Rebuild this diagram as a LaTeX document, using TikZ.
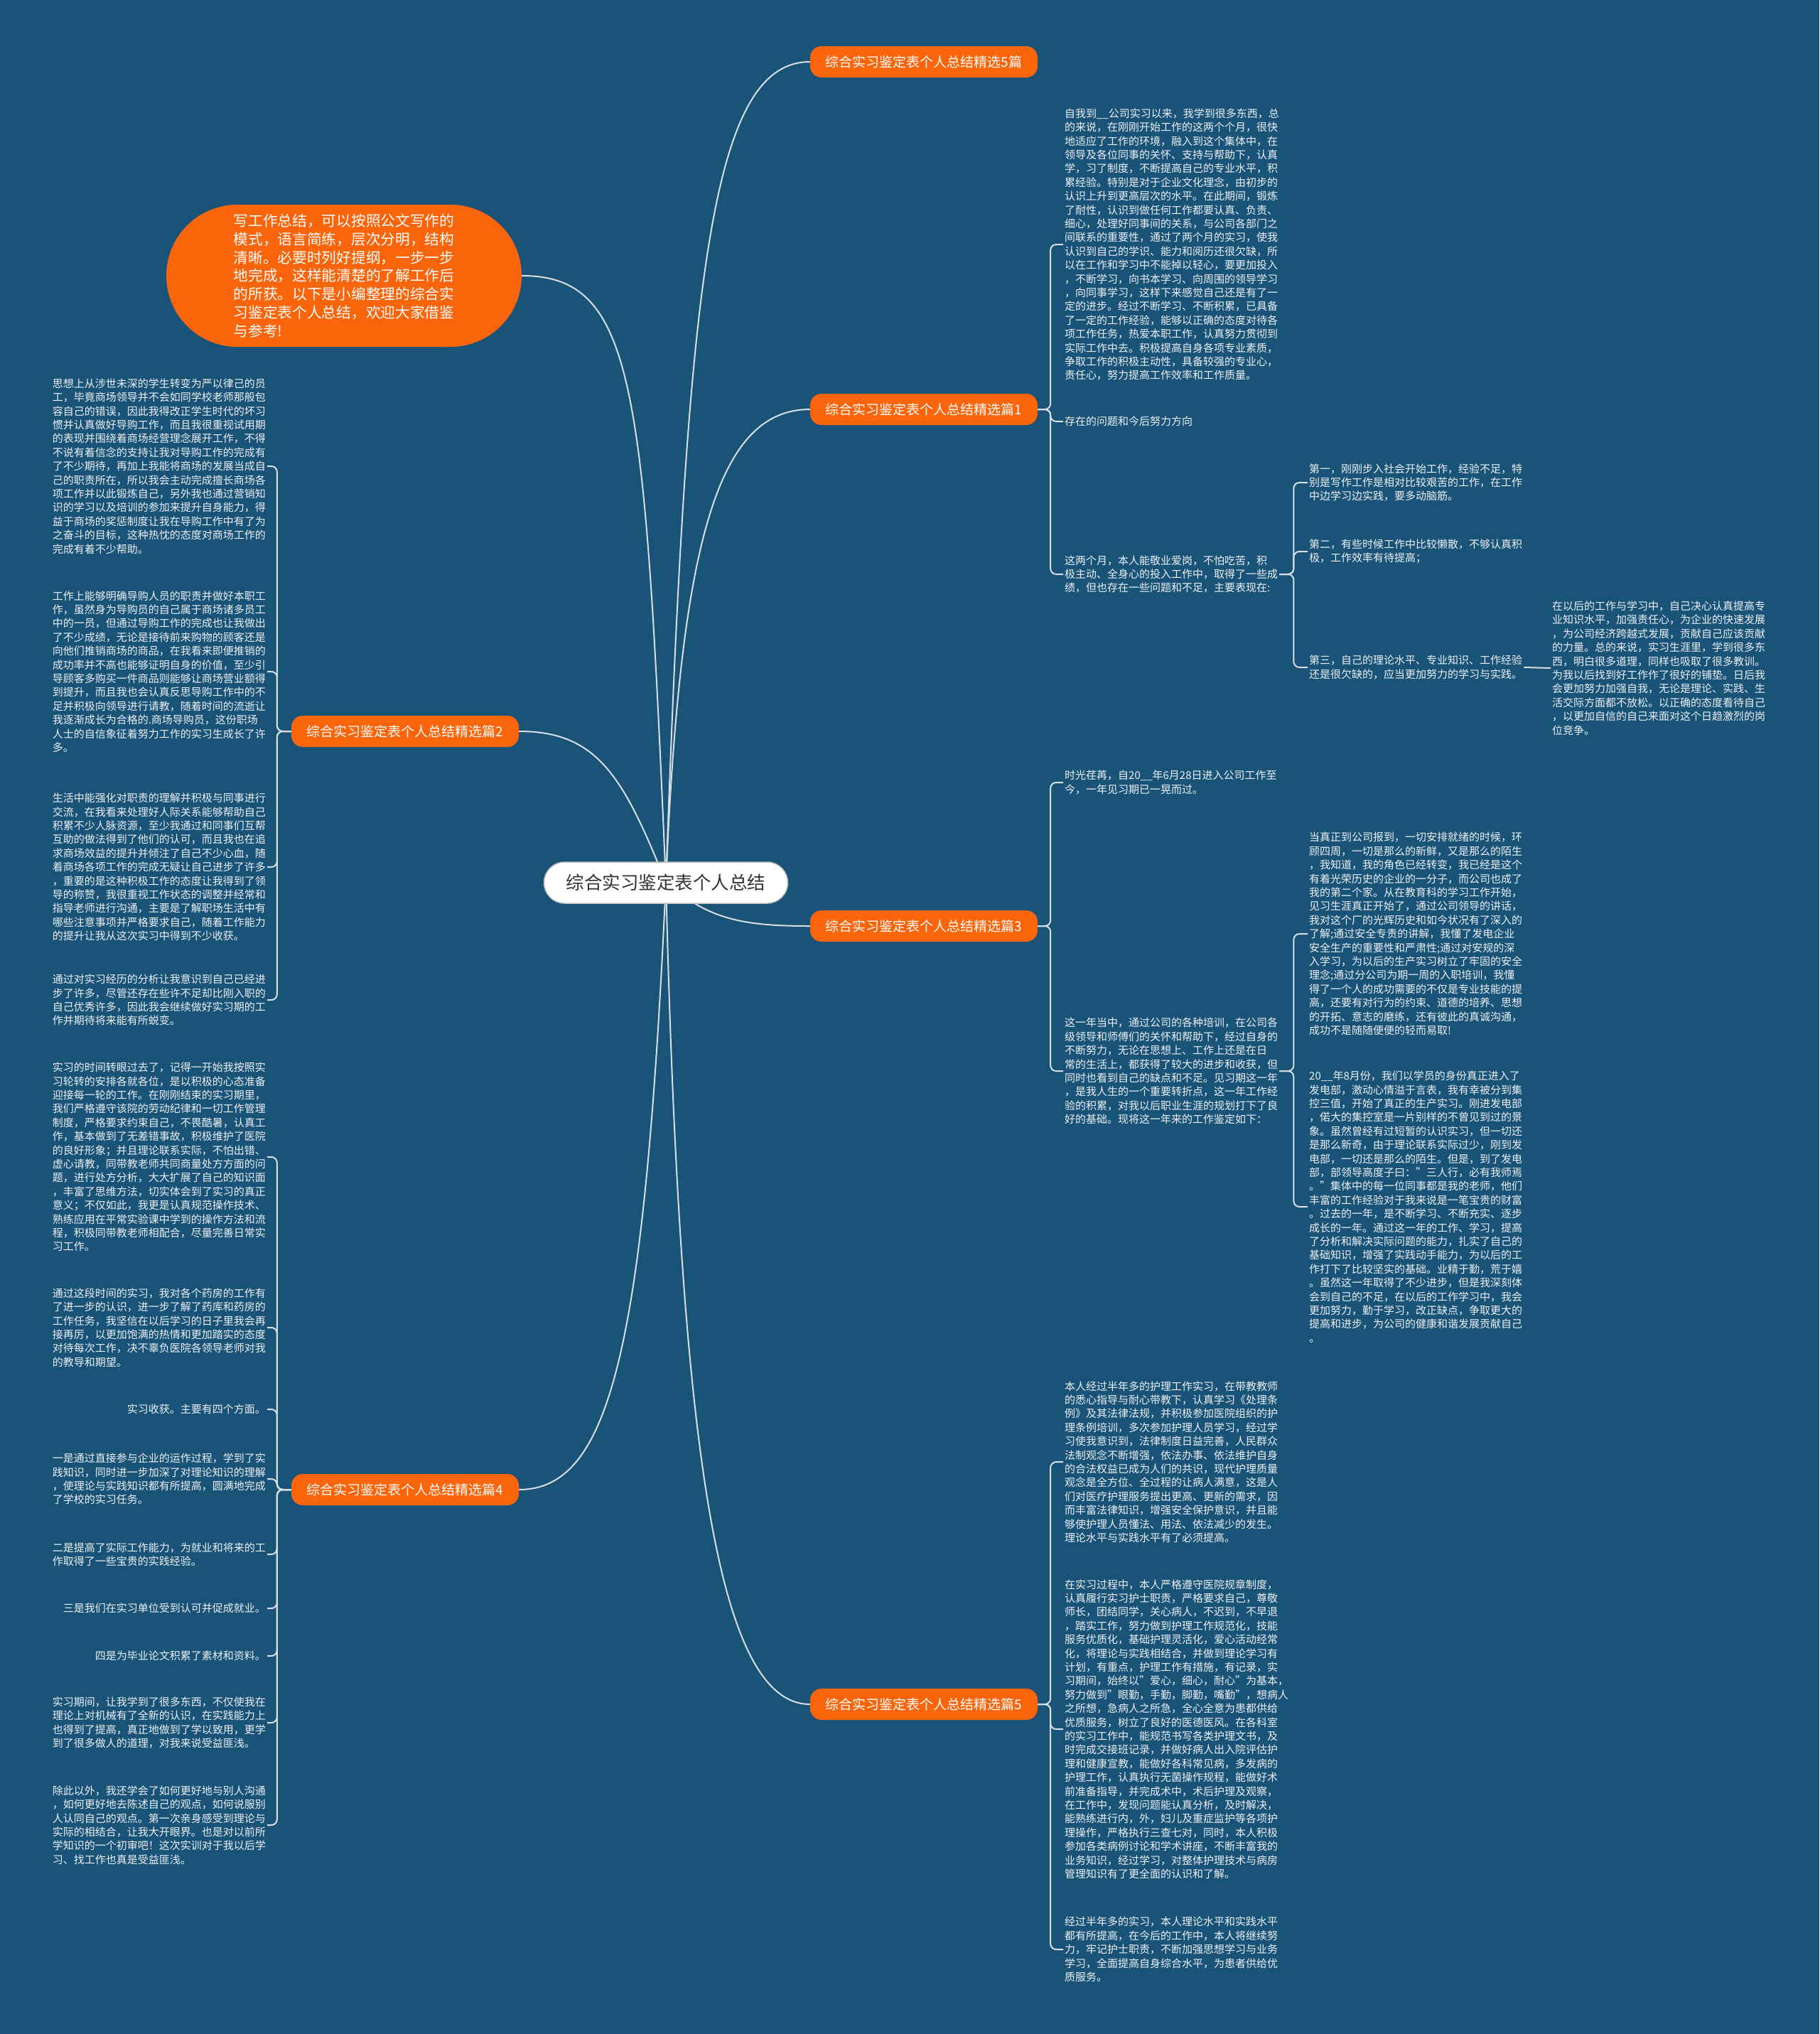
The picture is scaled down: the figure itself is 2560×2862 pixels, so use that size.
\documentclass[tikz,border=0pt]{standalone}
\usepackage{fontspec}
\setmainfont{Noto Sans CJK SC}
\definecolor{bgblue}{RGB}{26,83,120}
\definecolor{mmorange}{RGB}{250,100,10}
\definecolor{linkgray}{RGB}{215,222,228}
\pgfdeclarelayer{back}
\pgfdeclarelayer{edges}
\pgfsetlayers{back,edges,main}

\begin{document}
\begin{tikzpicture}[x=1pt, y=-1pt,
    root/.style={draw=gray!50, line width=1.5pt, fill=white, rounded corners=29pt,
      minimum width=343pt, minimum height=58pt, text=black!80,
      font=\fontsize{25.5}{30}\selectfont},
    branch/.style={fill=mmorange, rounded corners=16pt, minimum width=320pt,
      minimum height=44pt, text=white, font=\fontsize{19}{23}\selectfont},
    intro/.style={fill=mmorange, rounded corners=100pt, minimum width=500pt,
      minimum height=200pt, text=white, align=left,
      font=\fontsize{20.7}{25.7}\selectfont},
    leaf/.style={text=white!92!bgblue, align=left, inner sep=2pt,
      font=\fontsize{15}{19.4}\selectfont},
    link/.style={draw=linkgray, line width=2pt},
    bracket/.style={link, rounded corners=8pt}]

  % 背景
  \begin{pgfonlayer}{back}
    \fill[bgblue] (0,0) rectangle (2560,2862);
  \end{pgfonlayer}
  \useasboundingbox (0,0) rectangle (2560,2862);

  % 中心主题
  \node[root] (c) at (937,1242) {综合实习鉴定表个人总结};

  % 引言
  \node[intro] (intro) at (484,388) {写工作总结，可以按照公文写作的\\模式，语言简练，层次分明，结构\\清晰。必要时列好提纲，一步一步\\地完成，这样能清楚的了解工作后\\的所获。以下是小编整理的综合实\\习鉴定表个人总结，欢迎大家借鉴\\与参考!};

  % 分支
  \node[branch] (b0) at (1300,87) {综合实习鉴定表个人总结精选5篇};
  \node[branch] (b1) at (1300,576) {综合实习鉴定表个人总结精选篇1};
  \node[branch] (b2) at (570,1029) {综合实习鉴定表个人总结精选篇2};
  \node[branch] (b3) at (1300,1303) {综合实习鉴定表个人总结精选篇3};
  \node[branch] (b4) at (570,2096) {综合实习鉴定表个人总结精选篇4};
  \node[branch] (b5) at (1300,2398) {综合实习鉴定表个人总结精选篇5};

  % 篇1
  \node[leaf, anchor=west] (t1a) at (1496,344) {自我到\_\_公司实习以来，我学到很多东西，总\\的来说，在刚刚开始工作的这两个个月，很快\\地适应了工作的环境，融入到这个集体中，在\\领导及各位同事的关怀、支持与帮助下，认真\\学，习了制度，不断提高自己的专业水平，积\\累经验。特别是对于企业文化理念，由初步的\\认识上升到更高层次的水平。在此期间，锻炼\\了耐性，认识到做任何工作都要认真、负责、\\细心，处理好同事间的关系，与公司各部门之\\间联系的重要性，通过了两个月的实习，使我\\认识到自己的学识、能力和阅历还很欠缺，所\\以在工作和学习中不能掉以轻心，要更加投入\\，不断学习，向书本学习、向周围的领导学习\\，向同事学习，这样下来感觉自己还是有了一\\定的进步。经过不断学习、不断积累，已具备\\了一定的工作经验，能够以正确的态度对待各\\项工作任务，热爱本职工作，认真努力贯彻到\\实际工作中去。积极提高自身各项专业素质，\\争取工作的积极主动性，具备较强的专业心，\\责任心，努力提高工作效率和工作质量。};
  \node[leaf, anchor=west] (t1b) at (1496,593) {存在的问题和今后努力方向};
  \node[leaf, anchor=west] (t1c) at (1496,808) {这两个月，本人能敬业爱岗，不怕吃苦，积\\极主动、全身心的投入工作中，取得了一些成\\绩，但也存在一些问题和不足，主要表现在:};
  \node[leaf, anchor=west] (s1) at (1840,679) {第一，刚刚步入社会开始工作，经验不足，特\\别是写作工作是相对比较艰苦的工作，在工作\\中边学习边实践，要多动脑筋。};
  \node[leaf, anchor=west] (s2) at (1840,776) {第二，有些时候工作中比较懒散，不够认真积\\极，工作效率有待提高；};
  \node[leaf, anchor=west] (s3) at (1840,939) {第三，自己的理论水平、专业知识、工作经验\\还是很欠缺的，应当更加努力的学习与实践。};
  \node[leaf, anchor=west] (s4) at (2182,940) {在以后的工作与学习中，自己决心认真提高专\\业知识水平，加强责任心，为企业的快速发展\\，为公司经济跨越式发展，贡献自己应该贡献\\的力量。总的来说，实习生涯里，学到很多东\\西，明白很多道理，同样也吸取了很多教训。\\为我以后找到好工作作了很好的铺垫。日后我\\会更加努力加强自我，无论是理论、实践、生\\活交际方面都不放松。以正确的态度看待自己\\，以更加自信的自己来面对这个日趋激烈的岗\\位竞争。};

  % 篇3
  \node[leaf, anchor=west] (t3a) at (1496,1101) {时光荏苒，自20\_\_年6月28日进入公司工作至\\今，一年见习期已一晃而过。};
  \node[leaf, anchor=west] (t3b) at (1496,1507) {这一年当中，通过公司的各种培训，在公司各\\级领导和师傅们的关怀和帮助下，经过自身的\\不断努力，无论在思想上、工作上还是在日\\常的生活上，都获得了较大的进步和收获，但\\同时也看到自己的缺点和不足。见习期这一年\\，是我人生的一个重要转折点，这一年工作经\\验的积累，对我以后职业生涯的规划打下了良\\好的基础。现将这一年来的工作鉴定如下：};
  \node[leaf, anchor=west] (t3c) at (1840,1314) {当真正到公司报到，一切安排就绪的时候，环\\顾四周，一切是那么的新鲜，又是那么的陌生\\，我知道，我的角色已经转变，我已经是这个\\有着光荣历史的企业的一分子，而公司也成了\\我的第二个家。从在教育科的学习工作开始，\\见习生涯真正开始了，通过公司领导的讲话，\\我对这个厂的光辉历史和如今状况有了深入的\\了解;通过安全专责的讲解，我懂了发电企业\\安全生产的重要性和严肃性;通过对安规的深\\入学习，为以后的生产实习树立了牢固的安全\\理念;通过分公司为期一周的入职培训，我懂\\得了一个人的成功需要的不仅是专业技能的提\\高，还要有对行为的约束、道德的培养、思想\\的开拓、意志的磨练，还有彼此的真诚沟通，\\成功不是随随便便的轻而易取!};
  \node[leaf, anchor=west] (t3d) at (1840,1698) {20\_\_年8月份，我们以学员的身份真正进入了\\发电部，激动心情溢于言表，我有幸被分到集\\控三值，开始了真正的生产实习。刚进发电部\\，偌大的集控室是一片别样的不曾见到过的景\\象。虽然曾经有过短暂的认识实习，但一切还\\是那么新奇，由于理论联系实际过少，刚到发\\电部，一切还是那么的陌生。但是，到了发电\\部，部领导高度子曰："三人行，必有我师焉\\。"集体中的每一位同事都是我的老师，他们\\丰富的工作经验对于我来说是一笔宝贵的财富\\。过去的一年，是不断学习、不断充实、逐步\\成长的一年。通过这一年的工作、学习，提高\\了分析和解决实际问题的能力，扎实了自己的\\基础知识，增强了实践动手能力，为以后的工\\作打下了比较坚实的基础。业精于勤，荒于嬉\\。虽然这一年取得了不少进步，但是我深刻体\\会到自己的不足，在以后的工作学习中，我会\\更加努力，勤于学习，改正缺点，争取更大的\\提高和进步，为公司的健康和谐发展贡献自己\\。};

  % 篇5
  \node[leaf, anchor=west] (t5a) at (1496,2057) {本人经过半年多的护理工作实习，在带教教师\\的悉心指导与耐心带教下，认真学习《处理条\\例》及其法律法规，并积极参加医院组织的护\\理条例培训，多次参加护理人员学习，经过学\\习使我意识到，法律制度日益完善，人民群众\\法制观念不断增强，依法办事、依法维护自身\\的合法权益已成为人们的共识，现代护理质量\\观念是全方位、全过程的让病人满意，这是人\\们对医疗护理服务提出更高、更新的需求，因\\而丰富法律知识，增强安全保护意识，并且能\\够使护理人员懂法、用法、依法减少的发生。\\理论水平与实践水平有了必须提高。};
  \node[leaf, anchor=west] (t5b) at (1496,2433) {在实习过程中，本人严格遵守医院规章制度，\\认真履行实习护士职责，严格要求自己，尊敬\\师长，团结同学，关心病人，不迟到，不早退\\，踏实工作，努力做到护理工作规范化，技能\\服务优质化，基础护理灵活化，爱心活动经常\\化，将理论与实践相结合，并做到理论学习有\\计划，有重点，护理工作有措施，有记录，实\\习期间，始终以"爱心，细心，耐心"为基本，\\努力做到"眼勤，手勤，脚勤，嘴勤"，想病人\\之所想，急病人之所急，全心全意为患都供给\\优质服务，树立了良好的医德医风。在各科室\\的实习工作中，能规范书写各类护理文书，及\\时完成交接班记录，并做好病人出入院评估护\\理和健康宣教，能做好各科常见病，多发病的\\护理工作，认真执行无菌操作规程，能做好术\\前准备指导，并完成术中，术后护理及观察，\\在工作中，发现问题能认真分析，及时解决，\\能熟练进行内，外，妇儿及重症监护等各项护\\理操作，严格执行三查七对，同时，本人积极\\参加各类病例讨论和学术讲座，不断丰富我的\\业务知识，经过学习，对整体护理技术与病房\\管理知识有了更全面的认识和了解。};
  \node[leaf, anchor=west] (t5c) at (1496,2743) {经过半年多的实习，本人理论水平和实践水平\\都有所提高，在今后的工作中，本人将继续努\\力，牢记护士职责，不断加强思想学习与业务\\学习，全面提高自身综合水平，为患者供给优\\质服务。};

  % 篇2
  \node[leaf, anchor=east] (t2a) at (376,656) {思想上从涉世未深的学生转变为严以律己的员\\工，毕竟商场领导并不会如同学校老师那般包\\容自己的错误，因此我得改正学生时代的坏习\\惯并认真做好导购工作，而且我很重视试用期\\的表现并围绕着商场经营理念展开工作，不得\\不说有着信念的支持让我对导购工作的完成有\\了不少期待，再加上我能将商场的发展当成自\\己的职责所在，所以我会主动完成擅长商场各\\项工作并以此锻炼自己，另外我也通过营销知\\识的学习以及培训的参加来提升自身能力，得\\益于商场的奖惩制度让我在导购工作中有了为\\之奋斗的目标，这种热忱的态度对商场工作的\\完成有着不少帮助。};
  \node[leaf, anchor=east] (t2b) at (376,945) {工作上能够明确导购人员的职责并做好本职工\\作，虽然身为导购员的自己属于商场诸多员工\\中的一员，但通过导购工作的完成也让我做出\\了不少成绩，无论是接待前来购物的顾客还是\\向他们推销商场的商品，在我看来即便推销的\\成功率并不高也能够证明自身的价值，至少引\\导顾客多购买一件商品则能够让商场营业额得\\到提升，而且我也会认真反思导购工作中的不\\足并积极向领导进行请教，随着时间的流逝让\\我逐渐成长为合格的.商场导购员，这份职场\\人士的自信象征着努力工作的实习生成长了许\\多。};
  \node[leaf, anchor=east] (t2c) at (376,1220) {生活中能强化对职责的理解并积极与同事进行\\交流，在我看来处理好人际关系能够帮助自己\\积累不少人脉资源，至少我通过和同事们互帮\\互助的做法得到了他们的认可，而且我也在追\\求商场效益的提升并倾注了自己不少心血，随\\着商场各项工作的完成无疑让自己进步了许多\\，重要的是这种积极工作的态度让我得到了领\\导的称赞，我很重视工作状态的调整并经常和\\指导老师进行沟通，主要是了解职场生活中有\\哪些注意事项并严格要求自己，随着工作能力\\的提升让我从这次实习中得到不少收获。};
  \node[leaf, anchor=east] (t2d) at (376,1407) {通过对实习经历的分析让我意识到自己已经进\\步了许多，尽管还存在些许不足却比刚入职的\\自己优秀许多，因此我会继续做好实习期的工\\作并期待将来能有所蜕变。};

  % 篇4
  \node[leaf, anchor=east] (t4a) at (376,1628) {实习的时间转眼过去了，记得一开始我按照实\\习轮转的安排各就各位，是以积极的心态准备\\迎接每一轮的工作。在刚刚结束的实习期里，\\我们严格遵守该院的劳动纪律和一切工作管理\\制度，严格要求约束自己，不畏酷暑，认真工\\作，基本做到了无差错事故，积极维护了医院\\的良好形象；并且理论联系实际，不怕出错、\\虚心请教，同带教老师共同商量处方方面的问\\题，进行处方分析，大大扩展了自己的知识面\\，丰富了思维方法，切实体会到了实习的真正\\意义；不仅如此，我更是认真规范操作技术、\\熟练应用在平常实验课中学到的操作方法和流\\程，积极同带教老师相配合，尽量完善日常实\\习工作。};
  \node[leaf, anchor=east] (t4b) at (376,1868) {通过这段时间的实习，我对各个药房的工作有\\了进一步的认识，进一步了解了药库和药房的\\工作任务，我坚信在以后学习的日子里我会再\\接再厉，以更加饱满的热情和更加踏实的态度\\对待每次工作，决不辜负医院各领导老师对我\\的教导和期望。};
  \node[leaf, anchor=east] (t4c) at (376,1983) {实习收获。主要有四个方面。};
  \node[leaf, anchor=east] (t4d) at (376,2081) {一是通过直接参与企业的运作过程，学到了实\\践知识，同时进一步加深了对理论知识的理解\\，使理论与实践知识都有所提高，圆满地完成\\了学校的实习任务。};
  \node[leaf, anchor=east] (t4e) at (376,2187) {二是提高了实际工作能力，为就业和将来的工\\作取得了一些宝贵的实践经验。};
  \node[leaf, anchor=east] (t4f) at (376,2263) {三是我们在实习单位受到认可并促成就业。};
  \node[leaf, anchor=east] (t4g) at (376,2330) {四是为毕业论文积累了素材和资料。};
  \node[leaf, anchor=east] (t4h) at (376,2424) {实习期间，让我学到了很多东西，不仅使我在\\理论上对机械有了全新的认识，在实践能力上\\也得到了提高，真正地做到了学以致用，更学\\到了很多做人的道理，对我来说受益匪浅。};
  \node[leaf, anchor=east] (t4i) at (376,2568) {除此以外，我还学会了如何更好地与别人沟通\\，如何更好地去陈述自己的观点，如何说服别\\人认同自己的观点。第一次亲身感受到理论与\\实际的相结合，让我大开眼界。也是对以前所\\学知识的一个初审吧！这次实训对于我以后学\\习、找工作也真是受益匪浅。};

  % 连线
  \begin{pgfonlayer}{edges}
    \draw[link] (c.center) .. controls +(30,-850) and +(-140,0) .. (b0.west);
    \draw[link] (c.center) .. controls +(20,-480) and +(-130,0) .. (b1.west);
    \draw[link] (c.center) .. controls +(60,50) and +(-100,0) .. (b3.west);
    \draw[link] (c.center) .. controls +(20,800) and +(-130,0) .. (b5.west);
    \draw[link] (c.center) .. controls +(-30,-700) and +(160,0) .. (intro.east);
    \draw[link] (c.center) .. controls +(-60,-150) and +(110,0) .. (b2.east);
    \draw[link] (c.center) .. controls +(-30,650) and +(130,0) .. (b4.east);

    \foreach \t in {t1a,t1b,t1c} \draw[bracket] (b1.east) -- ++(18,0) |- (\t.west);
    \foreach \t in {s1,s2,s3} \draw[bracket] (t1c.east) -- ++(20,0) |- (\t.west);
    \draw[link] (s3.east) -- (s4.west);
    \foreach \t in {t3a,t3b} \draw[bracket] (b3.east) -- ++(18,0) |- (\t.west);
    \foreach \t in {t3c,t3d} \draw[bracket] (t3b.east) -- ++(20,0) |- (\t.west);
    \foreach \t in {t5a,t5b,t5c} \draw[bracket] (b5.east) -- ++(18,0) |- (\t.west);
    \foreach \t in {t2a,t2b,t2c,t2d} \draw[bracket] (b2.west) -- ++(-20,0) |- (\t.east);
    \foreach \t in {t4a,t4b,t4c,t4d,t4e,t4f,t4g,t4h,t4i} \draw[bracket] (b4.west) -- ++(-20,0) |- (\t.east);
  \end{pgfonlayer}
\end{tikzpicture}
\end{document}
